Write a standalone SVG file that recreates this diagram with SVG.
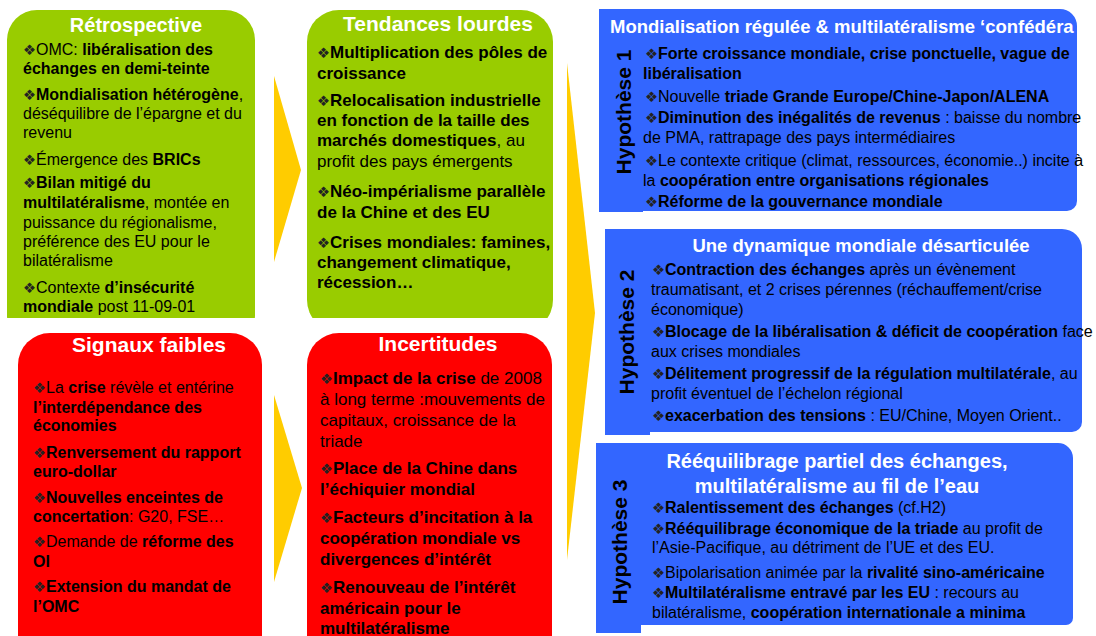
<svg xmlns="http://www.w3.org/2000/svg" width="1096" height="636" viewBox="0 0 1096 636">
<style>
text{font-family:"Liberation Sans",Arial,sans-serif;fill:#000}
.s16{font-size:16px}
.s17{font-size:17px}
.b{font-weight:700}
.bu{font-family:"DejaVu Sans",sans-serif;font-size:14.5px;fill:#222;font-weight:400}
.ttl{fill:#fff;font-weight:700;text-anchor:middle}
.hyp{font-size:21px;font-weight:700;text-anchor:middle}
.green{fill:#99CC00}
.red{fill:#FF0000}
.blue{fill:#3366FF}
.arrow{fill:#FFCC00}
</style>
<defs>
<clipPath id="topClip"><rect x="0" y="0" width="1096" height="318"/></clipPath>
<clipPath id="h1Clip"><rect x="599" y="9" width="478" height="204"/></clipPath>
</defs>
<rect width="1096" height="636" fill="#fff"/>

<g id="connectors">
<polygon class="arrow" points="274,76 301,170 274,262"/>
<polygon class="arrow" points="274,395 302,488 274,582"/>
<polygon class="arrow" points="567,63 595,313 567,560"/>
</g>

<g id="retrospective">
<rect class="green" x="7" y="10" width="248" height="335" rx="30" clip-path="url(#topClip)"/>
<text class="ttl" x="136" y="32" style="font-size:20px">Rétrospective</text>
<text class="s16" x="23" y="55"><tspan class="bu">❖</tspan>OMC: <tspan class="b">libéralisation des</tspan></text>
<text class="s16 b" x="23" y="74">échanges en demi-teinte</text>
<text class="s16" x="23" y="100"><tspan class="bu">❖</tspan><tspan class="b">Mondialisation hétérogène</tspan>,</text>
<text class="s16" x="23" y="119">déséquilibre de l’épargne et du</text>
<text class="s16" x="23" y="138">revenu</text>
<text class="s16" x="23" y="165"><tspan class="bu">❖</tspan>Émergence des <tspan class="b">BRICs</tspan></text>
<text class="s16" x="23" y="188"><tspan class="bu">❖</tspan><tspan class="b">Bilan mitigé du</tspan></text>
<text class="s16" x="23" y="208"><tspan class="b">multilatéralisme</tspan>, montée en</text>
<text class="s16" x="23" y="228">puissance du régionalisme,</text>
<text class="s16" x="23" y="247">préférence des EU pour le</text>
<text class="s16" x="23" y="266">bilatéralisme</text>
<text class="s16" x="23" y="293"><tspan class="bu">❖</tspan>Contexte <tspan class="b">d’insécurité</tspan></text>
<text class="s16" x="23" y="312"><tspan class="b">mondiale</tspan> post 11-09-01</text>
</g>

<g id="tendances">
<rect class="green" x="307" y="10" width="246" height="322" rx="32" clip-path="url(#topClip)"/>
<text class="ttl" x="438" y="31" style="font-size:21px">Tendances lourdes</text>
<text class="s17 b" x="317" y="58"><tspan class="bu">❖</tspan>Multiplication des pôles de</text>
<text class="s17 b" x="317" y="79">croissance</text>
<text class="s17 b" x="317" y="106"><tspan class="bu">❖</tspan>Relocalisation industrielle</text>
<text class="s17 b" x="317" y="126">en fonction de la taille des</text>
<text class="s17" x="317" y="146"><tspan class="b">marchés domestiques</tspan>, au</text>
<text class="s17" x="317" y="167">profit des pays émergents</text>
<text class="s17 b" x="317" y="197"><tspan class="bu">❖</tspan>Néo-impérialisme parallèle</text>
<text class="s17 b" x="317" y="218">de la Chine et des EU</text>
<text class="s17 b" x="317" y="248"><tspan class="bu">❖</tspan>Crises mondiales: famines,</text>
<text class="s17 b" x="317" y="268">changement climatique,</text>
<text class="s17 b" x="317" y="288">récession…</text>
</g>

<g id="signaux">
<rect class="red" x="18" y="333" width="244" height="340" rx="32"/>
<text class="ttl" x="149" y="352" style="font-size:21px">Signaux faibles</text>
<text class="s16" x="33" y="393"><tspan class="bu">❖</tspan>La <tspan class="b">crise</tspan> révèle et entérine</text>
<text class="s16 b" x="33" y="413">l’interdépendance des</text>
<text class="s16 b" x="33" y="431">économies</text>
<text class="s16 b" x="33" y="458"><tspan class="bu">❖</tspan>Renversement du rapport</text>
<text class="s16 b" x="33" y="477">euro-dollar</text>
<text class="s16 b" x="33" y="503"><tspan class="bu">❖</tspan>Nouvelles enceintes de</text>
<text class="s16" x="33" y="522"><tspan class="b">concertation</tspan>: G20, FSE…</text>
<text class="s16" x="33" y="547"><tspan class="bu">❖</tspan>Demande de <tspan class="b">réforme des</tspan></text>
<text class="s16 b" x="33" y="567">OI</text>
<text class="s16 b" x="33" y="592"><tspan class="bu">❖</tspan>Extension du mandat de</text>
<text class="s16 b" x="33" y="612">l’OMC</text>
</g>

<g id="incertitudes">
<rect class="red" x="307" y="333" width="245" height="340" rx="32"/>
<text class="ttl" x="438" y="351" style="font-size:21px">Incertitudes</text>
<text class="s17" x="320" y="384"><tspan class="bu">❖</tspan><tspan class="b">Impact de la crise</tspan> de 2008</text>
<text class="s17" x="320" y="405">à long terme :mouvements de</text>
<text class="s17" x="320" y="426">capitaux, croissance de la</text>
<text class="s17" x="320" y="447">triade</text>
<text class="s17 b" x="320" y="474"><tspan class="bu">❖</tspan>Place de la Chine dans</text>
<text class="s17 b" x="320" y="495">l’échiquier mondial</text>
<text class="s17 b" x="320" y="523"><tspan class="bu">❖</tspan>Facteurs d’incitation à la</text>
<text class="s17 b" x="320" y="544">coopération mondiale vs</text>
<text class="s17 b" x="320" y="565">divergences d’intérêt</text>
<text class="s17 b" x="320" y="593"><tspan class="bu">❖</tspan>Renouveau de l’intérêt</text>
<text class="s17 b" x="320" y="614">américain pour le</text>
<text class="s17 b" x="320" y="634">multilatéralisme</text>
</g>

<g id="hypothese1">
<path class="blue" d="M599,9 H1060 A17,17 0 0 1 1077,26 V201 A10,10 0 0 1 1067,211 H643 V212 H599 Z"/>
<text class="ttl" x="610" y="33" style="font-size:18.5px;text-anchor:start" clip-path="url(#h1Clip)">Mondialisation régulée &amp; multilatéralisme ‘confédéra</text>
<text class="hyp" transform="translate(631,112) rotate(-90)">Hypothèse 1</text>
<text class="s16" x="645" y="59"><tspan class="bu">❖</tspan><tspan class="b">Forte croissance mondiale, crise ponctuelle, vague de</tspan></text>
<text class="s16 b" x="643" y="79">libéralisation</text>
<text class="s16" x="645" y="102"><tspan class="bu">❖</tspan>Nouvelle <tspan class="b">triade Grande Europe/Chine-Japon/ALENA</tspan></text>
<text class="s16" x="645" y="123"><tspan class="bu">❖</tspan><tspan class="b">Diminution des inégalités de revenus</tspan> : baisse du nombre</text>
<text class="s16" x="643" y="143">de PMA, rattrapage des pays intermédiaires</text>
<text class="s16" x="645" y="166"><tspan class="bu">❖</tspan>Le contexte critique (climat, ressources, économie..) incite à</text>
<text class="s16" x="643" y="186">la <tspan class="b">coopération entre organisations régionales</tspan></text>
<text class="s16" x="645" y="207"><tspan class="bu">❖</tspan><tspan class="b">Réforme de la gouvernance mondiale</tspan></text>
</g>

<g id="hypothese2">
<path class="blue" d="M605,229 H1062 A20,20 0 0 1 1082,249 V422 A10,10 0 0 1 1072,432 H650 V435 H605 Z"/>
<text class="ttl" x="861" y="252" style="font-size:18.5px">Une dynamique mondiale désarticulée</text>
<text class="hyp" transform="translate(634,332) rotate(-90)">Hypothèse 2</text>
<text class="s16" x="652" y="275"><tspan class="bu">❖</tspan><tspan class="b">Contraction des échanges</tspan> après un évènement</text>
<text class="s16" x="651" y="295">traumatisant, et 2 crises pérennes (réchauffement/crise</text>
<text class="s16" x="651" y="315">économique)</text>
<text class="s16" x="652" y="337"><tspan class="bu">❖</tspan><tspan class="b">Blocage de la libéralisation &amp; déficit de coopération</tspan> face</text>
<text class="s16" x="651" y="357">aux crises mondiales</text>
<text class="s16" x="652" y="379"><tspan class="bu">❖</tspan><tspan class="b">Délitement progressif de la régulation multilatérale</tspan>, au</text>
<text class="s16" x="651" y="399">profit éventuel de l’échelon régional</text>
<text class="s16" x="652" y="421"><tspan class="bu">❖</tspan><tspan class="b">exacerbation des tensions</tspan> : EU/Chine, Moyen Orient..</text>
</g>

<g id="hypothese3">
<path class="blue" d="M596,443 H1058 A15,15 0 0 1 1073,458 V618 A7,7 0 0 1 1066,625 H641 V633 H596 Z"/>
<text class="ttl" x="837" y="468" style="font-size:20px">Rééquilibrage partiel des échanges,</text>
<text class="ttl" x="837" y="493" style="font-size:20px">multilatéralisme au fil de l’eau</text>
<text class="hyp" transform="translate(627,542) rotate(-90)">Hypothèse 3</text>
<text class="s16" x="652" y="513"><tspan class="bu">❖</tspan><tspan class="b">Ralentissement des échanges</tspan> (cf.H2)</text>
<text class="s16" x="652" y="534"><tspan class="bu">❖</tspan><tspan class="b">Rééquilibrage économique de la triade</tspan> au profit de</text>
<text class="s16" x="652" y="553">l’Asie-Pacifique, au détriment de l’UE et des EU.</text>
<text class="s16" x="652" y="578"><tspan class="bu">❖</tspan>Bipolarisation animée par la <tspan class="b">rivalité sino-américaine</tspan></text>
<text class="s16" x="652" y="598"><tspan class="bu">❖</tspan><tspan class="b">Multilatéralisme entravé par les EU</tspan> : recours au</text>
<text class="s16" x="652" y="618">bilatéralisme, <tspan class="b">coopération internationale a minima</tspan></text>
</g>
</svg>
